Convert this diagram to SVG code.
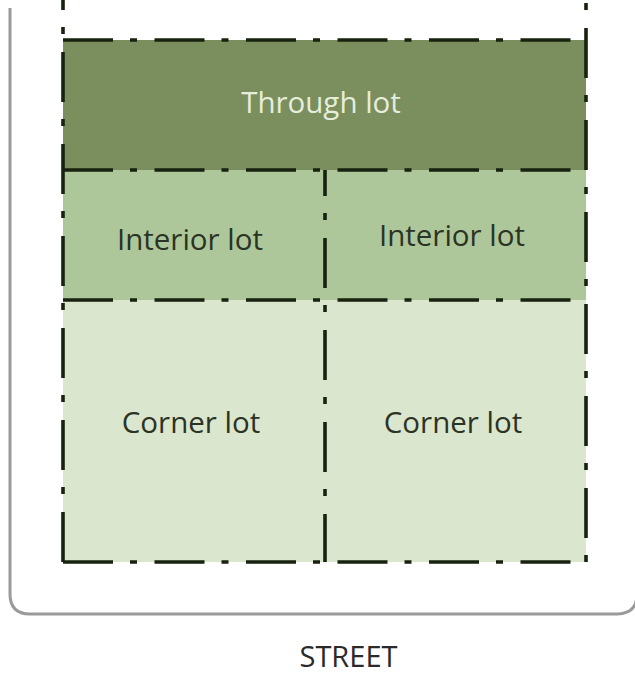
<svg xmlns="http://www.w3.org/2000/svg" width="635" height="675" viewBox="0 0 635 675">
<style>
.lbl{font-family:"Open Sans","Noto Sans","Liberation Sans",sans-serif;font-size:29.5px;font-weight:500;text-anchor:middle;fill:#2b3324}
.lt{fill:#e6edda}
.dl{stroke:#17220f;stroke-width:3.6;fill:none;stroke-dasharray:50 17 7 18}
.hl{stroke:#17220f;stroke-width:3.6;fill:none;stroke-dasharray:50 17 7 17.5}
</style>
<rect width="635" height="675" fill="#ffffff"/>
<path id="block-border" d="M10,8 V594 Q10,614 30,614 H617 Q637,614 637,594 V8" fill="none" stroke="#9a9a9a" stroke-width="3"/>
<g id="through-lot">
<rect x="63" y="40" width="523" height="130" fill="#7a8e5e"/>
<text class="lbl lt" x="321" y="113" style="font-size:29.5px">Through lot</text>
</g>
<g id="interior-lot-left">
<rect x="63" y="170" width="262" height="130" fill="#adc79a"/>
<text class="lbl" x="190" y="250">Interior lot</text>
</g>
<g id="interior-lot-right">
<rect x="325" y="170" width="261" height="130" fill="#adc79a"/>
<text class="lbl" x="452" y="246">Interior lot</text>
</g>
<g id="corner-lot-left">
<rect x="63" y="300" width="262" height="262" fill="#dbe6cf"/>
<text class="lbl" x="191" y="433">Corner lot</text>
</g>
<g id="corner-lot-right">
<rect x="325" y="300" width="261" height="262" fill="#dbe6cf"/>
<text class="lbl" x="453" y="433">Corner lot</text>
</g>
<g id="lot-lines">
<line class="hl" x1="63" y1="40" x2="586" y2="40"/>
<line class="hl" x1="63" y1="170" x2="586" y2="170"/>
<line class="hl" x1="63" y1="300" x2="586" y2="300"/>
<line class="hl" x1="63" y1="562" x2="586" y2="562"/>
<line class="dl" x1="63" y1="0" x2="63" y2="562" stroke-dashoffset="40"/>
<line class="dl" x1="586" y1="0" x2="586" y2="562" stroke-dashoffset="64"/>
<line class="dl" x1="325" y1="170" x2="325" y2="562" stroke-dashoffset="24"/>
</g>
<text id="street" class="lbl" x="348.5" y="667" style="fill:#2a2a2a;font-size:29px">STREET</text>
</svg>
